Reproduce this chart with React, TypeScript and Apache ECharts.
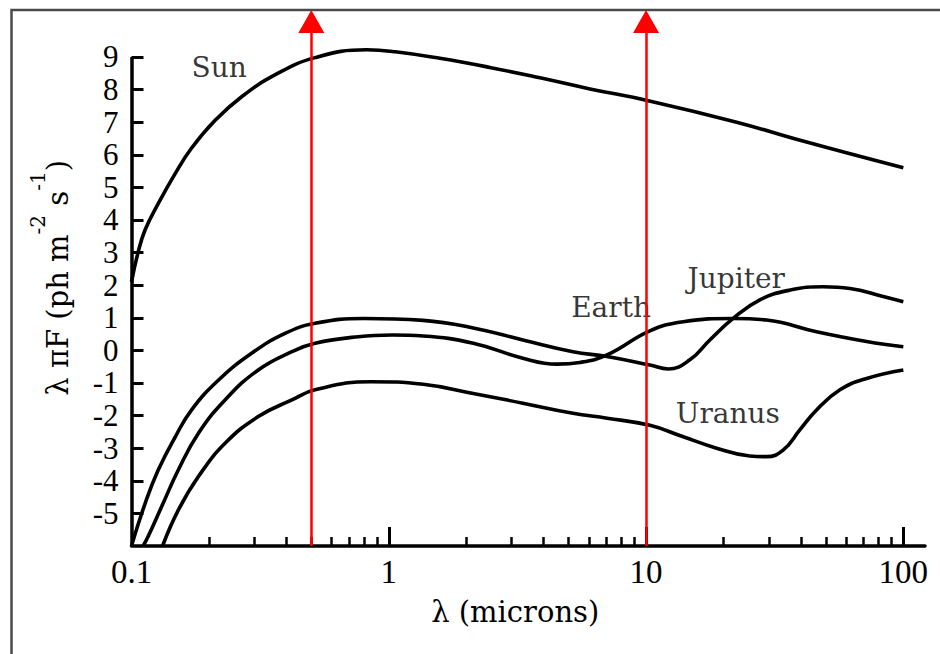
import React, { useEffect, useRef } from "react";
import * as echarts from "echarts";

// ---- axes ----
const X_MIN = 0.1;
const X_MAX = 121.4;
const Y_MIN = -6;
const Y_MAX = 10.45;
const Y_AXIS_TOP = 9;
const X_LABELS = [0.1, 1, 10, 100];
const X_MAJOR_TICKS = [1, 10, 100];
const X_MINOR_TICKS = [0.2, 0.3, 0.4, 0.5, 0.6, 0.7, 0.8, 0.9, 2, 3, 4, 5, 6, 7, 8, 9, 20, 30, 40, 50, 60, 70, 80, 90];
const Y_TICKS = [-5, -4, -3, -2, -1, 0, 1, 2, 3, 4, 5, 6, 7, 8, 9];

// ---- red arrows ----
const ARROW_X = [0.5, 10];
const ARROW_TOP = 10.09;

// ---- spectra: [wavelength (microns), value] ----
const SUN: [number, number][] = [
  [0.1, 2.1], [0.106, 3.0], [0.113, 3.7], [0.127, 4.5], [0.148, 5.43], [0.171, 6.2], [0.211, 7.05],
  [0.268, 7.78], [0.361, 8.45], [0.517, 8.98], [0.82, 9.22], [1.06, 9.16], [1.58, 8.96],
  [2.47, 8.68], [3.87, 8.36], [6.05, 8.02], [10.2, 7.66], [22.5, 7.0], [40.7, 6.42], [100, 5.6],
];
const JUPITER: [number, number][] = [
  [0.1, -6], [0.113, -4.69], [0.127, -3.67], [0.148, -2.65], [0.171, -1.83], [0.218, -0.91],
  [0.293, -0.09], [0.395, 0.52], [0.517, 0.83], [0.8, 0.98], [1.36, 0.92],
  [2.13, 0.69], [3.32, 0.32], [5.2, -0.04], [7.05, -0.19], [10.35, -0.45], [12.2, -0.57],
  [14.8, -0.29], [17.7, 0.32], [21.8, 0.98], [27.7, 1.55], [36.3, 1.85], [48.8, 1.95],
  [62, 1.9], [83.5, 1.65], [100, 1.49],
];
const EARTH: [number, number][] = [
  [0.111, -6], [0.116, -5.71], [0.131, -4.79], [0.152, -3.67], [0.182, -2.54], [0.231, -1.52],
  [0.311, -0.6], [0.42, -0.04], [0.517, 0.22], [0.761, 0.42], [1.03, 0.47], [1.36, 0.44],
  [2.13, 0.22], [3.32, -0.24], [4.5, -0.42], [5.53, -0.37], [7.05, -0.14], [10.35, 0.6],
  [13.95, 0.88], [21.8, 0.98], [29.4, 0.93], [46, 0.57], [72, 0.27], [100, 0.11],
];
const URANUS: [number, number][] = [
  [0.132, -6], [0.152, -4.9], [0.182, -3.87], [0.231, -2.85], [0.311, -2.03], [0.42, -1.52],
  [0.517, -1.21], [0.85, -0.96], [1.36, -1.04], [2.13, -1.32], [3.32, -1.62],
  [5.2, -1.93], [7.05, -2.08], [10.35, -2.3], [13.95, -2.65], [18.8, -3.0], [25.3, -3.24],
  [29.4, -3.26], [34.1, -3.06], [39.6, -2.44], [46, -1.83], [56.7, -1.21], [72, -0.86], [100, -0.6],
];

// ---- curve labels (anchored in data coordinates) ----
const CURVE_LABELS = [
  { name: "Sun", value: [0.219, 8.68] },
  { name: "Earth", value: [7.31, 1.32] },
  { name: "Jupiter", value: [22.4, 2.22] },
  { name: "Uranus", value: [20.8, -1.95] },
];

const TEXT_FONT = "'DejaVu Serif', serif";
const NUM_FONT = "'Liberation Serif', 'Times New Roman', serif";

function curve(name: string, data: [number, number][], extra: any = {}) {
  return {
    name,
    type: "line",
    data,
    smooth: 0.45,
    showSymbol: false,
    symbol: "none",
    clip: false,
    silent: true,
    lineStyle: { color: "#000", width: 3.6 },
    z: 3,
    ...extra,
  };
}

export default function App() {
  const ref = useRef<HTMLDivElement>(null);
  useEffect(() => {
    if (!ref.current) return;
    const chart = echarts.init(ref.current, undefined, { renderer: "svg" });
    const option: any = {
      animation: false,
      backgroundColor: "#fff",
      grid: {
        left: 131.5,
        right: 15,
        top: 9.7,
        bottom: 108,
        outerBoundsMode: "none",
        containLabel: false,
      },
      xAxis: [
        {
          type: "log",
          logBase: 10,
          min: X_MIN,
          max: X_MAX,
          position: "bottom",
          name: "λ (microns)",
          nameLocation: "middle",
          nameGap: 51,
          nameTextStyle: {
            fontFamily: TEXT_FONT,
            fontSize: 29,
            color: "#000",
            lineHeight: 30,
            padding: [0, 26, 0, 0],
          },
          axisLine: { show: true, onZero: false, lineStyle: { color: "#000", width: 3.5 } },
          axisTick: {
            show: true,
            inside: true,
            length: 19,
            customValues: X_MAJOR_TICKS,
            lineStyle: { color: "#000", width: 3 },
          },
          axisLabel: {
            show: true,
            customValues: X_LABELS,
            margin: 9,
            fontFamily: NUM_FONT,
            fontSize: 33,
            color: "#000",
            formatter: (v: number) => String(Number(v.toPrecision(3))),
          },
          splitLine: { show: false },
          minorTick: { show: false },
        },
        {
          type: "log",
          logBase: 10,
          min: X_MIN,
          max: X_MAX,
          position: "bottom",
          axisLine: { show: false, onZero: false },
          axisTick: {
            show: true,
            inside: true,
            length: 9,
            customValues: X_MINOR_TICKS,
            lineStyle: { color: "#000", width: 2.5 },
          },
          axisLabel: { show: false },
          splitLine: { show: false },
        },
      ],
      yAxis: {
        type: "value",
        min: Y_MIN,
        max: Y_MAX,
        name: "{a|λ πF (ph m}{s|-2}{a| s}{s|-1}{a|)}",
        nameLocation: "middle",
        nameRotate: 90,
        nameGap: 44,
        nameTextStyle: {
          color: "#000",
          rich: {
            a: { fontFamily: TEXT_FONT, fontSize: 29, lineHeight: 60, color: "#000" },
            s: { fontFamily: TEXT_FONT, fontSize: 20, lineHeight: 20, verticalAlign: "top", color: "#000" },
          },
        },
        axisLine: { show: false },
        axisTick: {
          show: true,
          inside: true,
          length: 12,
          customValues: Y_TICKS,
          lineStyle: { color: "#000", width: 3 },
        },
        axisLabel: {
          show: true,
          customValues: Y_TICKS,
          margin: 13,
          fontFamily: NUM_FONT,
          fontSize: 31,
          color: "#000",
        },
        splitLine: { show: false },
      },
      graphic: [
        {
          type: "rect",
          silent: true,
          shape: { x: 11.5, y: 10, width: 2000, height: 2000 },
          style: { fill: "none", stroke: "#4a4a4a", lineWidth: 2.5 },
          z: -1,
        },
      ],
      series: [
        curve("Sun", SUN, {
          markLine: {
            silent: true,
            symbol: ["none", "triangle"],
            symbolSize: [26, 23],
            label: { show: false },
            emphasis: { disabled: true },
            lineStyle: { color: "#ff0000", width: 2.5, type: "solid" },
            itemStyle: { color: "#ff0000" },
            z: 10,
            data: ARROW_X.map((x) => [
              { coord: [x, Y_MIN] },
              { coord: [x, ARROW_TOP] },
            ]),
          },
        }),
        curve("Jupiter", JUPITER),
        curve("Earth", EARTH),
        curve("Uranus", URANUS, {
          markLine: {
            silent: true,
            symbol: ["none", "none"],
            label: { show: false },
            emphasis: { disabled: true },
            lineStyle: { color: "#000", width: 3.5, type: "solid" },
            data: [[{ coord: [X_MIN, Y_MIN] }, { coord: [X_MIN, Y_AXIS_TOP] }]],
          },
        }),
        {
          name: "labels",
          type: "scatter",
          data: CURVE_LABELS,
          symbolSize: 1,
          silent: true,
          itemStyle: { color: "rgba(0,0,0,0)" },
          label: {
            show: true,
            position: "inside",
            formatter: "{b}",
            fontFamily: TEXT_FONT,
            fontSize: 28,
            color: "#000",
          },
          z: 5,
        },
      ],
    };
    chart.setOption(option);
    return () => chart.dispose();
  }, []);
  return (
    <div
      ref={ref}
      style={{ position: "fixed", left: 0, top: 0, width: 940, height: 654 }}
    />
  );
}
